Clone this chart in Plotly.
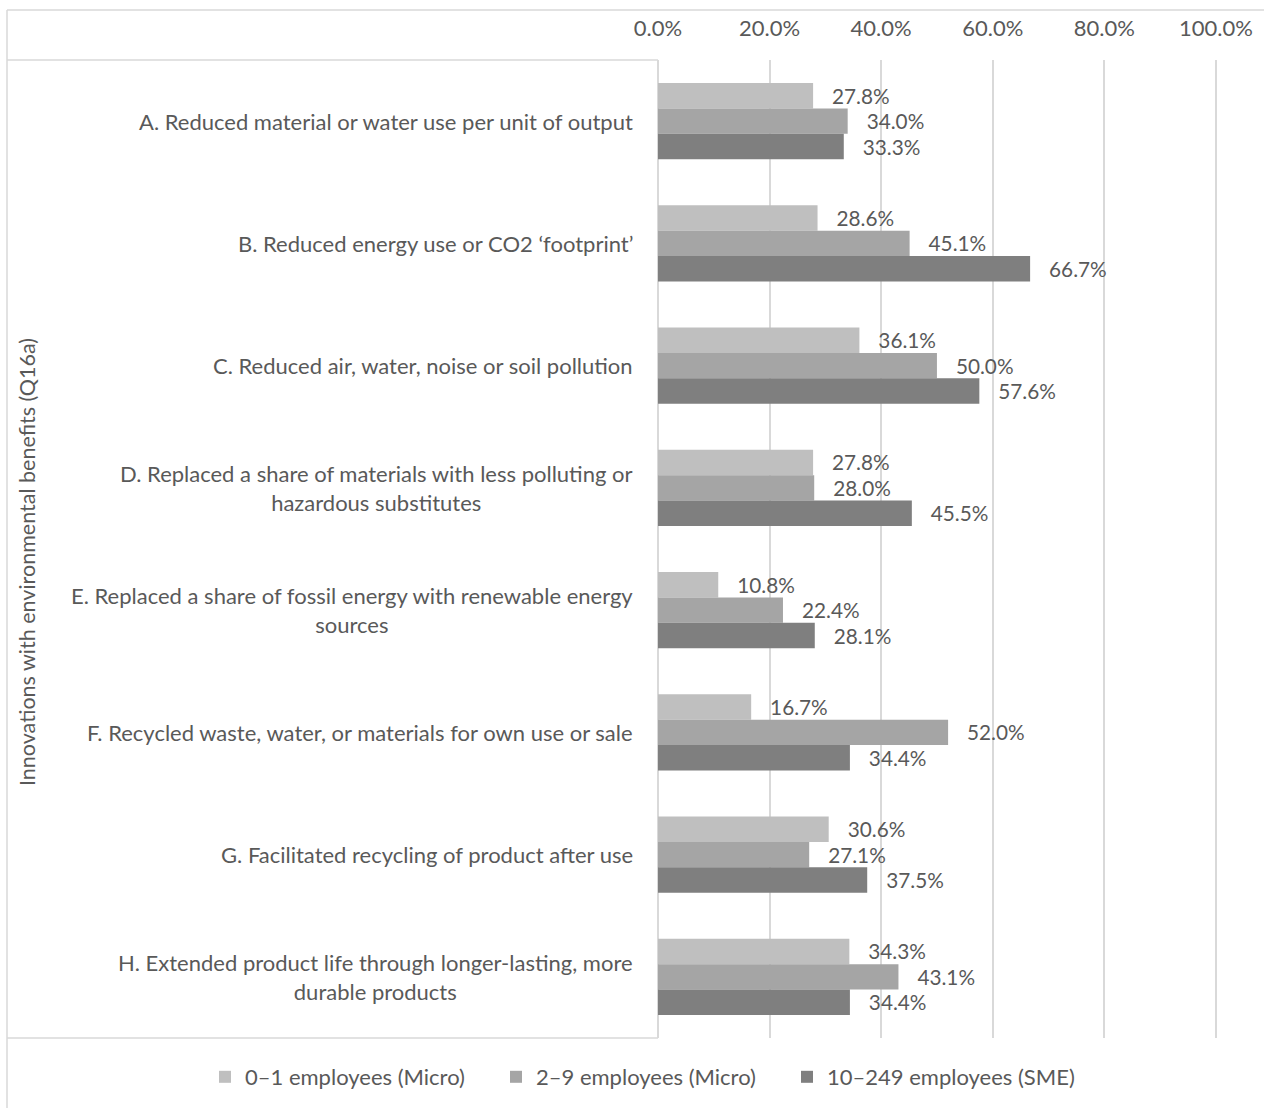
import plotly.graph_objects as go

categories = [
    "A. Reduced material or water use per unit of output",
    "B. Reduced energy use or CO2 \u2018footprint\u2019",
    "C. Reduced air, water, noise or soil pollution",
    "D. Replaced a share of materials with less polluting or<br>hazardous substitutes",
    "E. Replaced a share of fossil energy with renewable energy<br>sources",
    "F. Recycled waste, water, or materials for own use or sale",
    "G. Facilitated recycling of product after use",
    "H. Extended product life through longer-lasting, more<br>durable products",
]
series_names = ["0\u20131 employees (Micro)", "2\u20139 employees (Micro)", "10\u2013249 employees (SME)"]
micro_0_1 = [27.8, 28.6, 36.1, 27.8, 10.8, 16.7, 30.6, 34.3]
micro_2_9 = [34.0, 45.1, 50.0, 28.0, 22.4, 52.0, 27.1, 43.1]
sme_10_249 = [33.3, 66.7, 57.6, 45.5, 28.1, 34.4, 37.5, 34.4]
tick_values = [0, 20, 40, 60, 80, 100]
tick_labels = ["0.0%", "20.0%", "40.0%", "60.0%", "80.0%", "100.0%"]
axis_title = "Innovations with environmental benefits (Q16a)"

colors = ["#bfbfbf", "#a5a5a5", "#7f7f7f"]
FONT = "Lato, 'Open Sans', sans-serif"
FS = 22
TXT = "#595959"
LINE = "#d9d9d9"

W, H = 1264, 1108
L, R, T, B = 658, 47, 60, 70
pw = W - L - R
ph = H - T - B

def px_x(px):
    return (px - L) / pw

def px_y(py):
    return (H - B - py) / ph

fig = go.Figure()
for name, vals, col in zip(series_names, [micro_0_1, micro_2_9, sme_10_249], colors):
    fig.add_trace(go.Bar(
        y=categories, x=vals, name=name, orientation="h",
        marker=dict(color=col, line=dict(width=0)),
        texttemplate="\u00a0\u00a0\u00a0%{x:.1f}%", textposition="outside",
        textfont=dict(family=FONT, size=FS, color=TXT),
        cliponaxis=False,
    ))

annotations = []
for c in categories:
    annotations.append(dict(
        x=0, xref="paper", y=c, yref="y", text=c, showarrow=False,
        xanchor="right", xshift=-23, align="center",
        font=dict(family=FONT, size=FS, color=TXT),
    ))
annotations.append(dict(
    x=px_x(27), xref="paper", y=px_y(562), yref="paper", text=axis_title,
    textangle=-90, showarrow=False, xanchor="center", yanchor="middle",
    font=dict(family=FONT, size=21.5, color=TXT),
))

shapes = [
    dict(type="line", xref="paper", yref="paper", x0=px_x(7), x1=px_x(7), y0=px_y(H + 2), y1=px_y(10), line=dict(color=LINE, width=1.5)),
    dict(type="line", xref="paper", yref="paper", x0=px_x(7), x1=px_x(W + 2), y0=px_y(10), y1=px_y(10), line=dict(color=LINE, width=1.5)),
    dict(type="line", xref="paper", yref="paper", x0=px_x(7), x1=0, y0=1, y1=1, line=dict(color=LINE, width=1.5)),
    dict(type="line", xref="paper", yref="paper", x0=px_x(7), x1=0, y0=0, y1=0, line=dict(color=LINE, width=1.5)),
]

fig.update_layout(
    width=W, height=H,
    margin=dict(l=L, r=R, t=T, b=B, autoexpand=False),
    paper_bgcolor="white", plot_bgcolor="white",
    barmode="group", bargap=0.375, bargroupgap=0,
    font=dict(family=FONT, size=FS, color=TXT),
    showlegend=True,
    legend=dict(orientation="h", xref="paper", yref="paper", x=px_x(205), xanchor="left",
                y=px_y(1077), yanchor="middle", font=dict(family=FONT, size=FS, color=TXT),
                traceorder="normal", itemclick=False, entrywidth=246, bgcolor="rgba(0,0,0,0)"),
    annotations=annotations,
    shapes=shapes,
)
fig.update_xaxes(
    side="top", range=[0, 100.2], tickvals=tick_values, ticktext=tick_labels,
    showgrid=True, gridcolor=LINE, gridwidth=1.5, zeroline=True, zerolinecolor=LINE, zerolinewidth=1.5,
    showline=False, ticks="", ticklabelstandoff=19,
    tickfont=dict(family=FONT, size=FS, color=TXT), fixedrange=True,
)
fig.update_yaxes(
    type="category", autorange="reversed", showticklabels=False, showgrid=False,
    showline=False, zeroline=False, ticks="", fixedrange=True,
)

fig.write_html("out.html")
